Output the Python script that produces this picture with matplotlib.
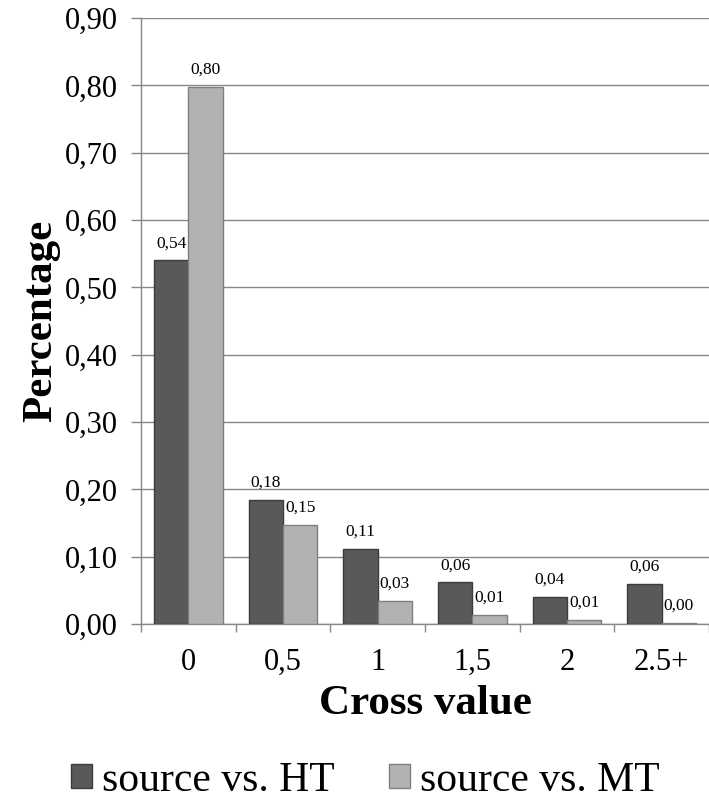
import numpy as np
import matplotlib
matplotlib.use("Agg")
import matplotlib.pyplot as plt
from matplotlib.ticker import FuncFormatter, FixedLocator

plt.rcParams["font.family"] = ["Liberation Serif", "DejaVu Serif"]

categories = ["0", "0,5", "1", "1,5", "2", "2.5+"]
source_vs_ht = [0.54, 0.184, 0.112, 0.062, 0.040, 0.060]
source_vs_mt = [0.798, 0.147, 0.034, 0.014, 0.006, 0.002]
series_names = ["source vs. HT", "source vs. MT"]

DARK = "#595959"
LIGHT = "#b2b2b2"
GRID = "#878787"


def comma(v, _=None):
    return f"{v:.2f}".replace(".", ",")


fig = plt.figure(figsize=(7.09, 8.0), dpi=100)
ax = fig.add_axes([0.199, 0.22, 0.801, 0.7575])

x = np.arange(len(categories))
w = 0.363
b1 = ax.bar(x - w / 2, source_vs_ht, w, color=DARK, edgecolor="#3c3c3c",
            linewidth=1, label=series_names[0], zorder=3)
b2 = ax.bar(x + w / 2, source_vs_mt, w, color=LIGHT, edgecolor="#7f7f7f",
            linewidth=1, label=series_names[1], zorder=3)

for bars, vals in ((b1, source_vs_ht), (b2, source_vs_mt)):
    for r, v in zip(bars, vals):
        ax.annotate(comma(v), (r.get_x() + r.get_width() / 2, v),
                    xytext=(0, 6.5), textcoords="offset points",
                    ha="center", va="bottom", fontsize=12.5)

ax.set_xlim(-0.5, len(categories) - 0.5)
ax.set_ylim(0, 0.9)
ax.set_yticks(np.arange(0, 0.91, 0.1))
ax.yaxis.set_major_formatter(FuncFormatter(comma))
ax.set_xticks(x)
ax.set_xticklabels(categories)
ax.xaxis.set_minor_locator(FixedLocator(np.arange(-0.5, len(categories), 1)))

ax.tick_params(axis="y", labelsize=22, length=7, width=1, color=GRID, pad=10)
ax.tick_params(axis="x", which="major", labelsize=22, length=0, pad=17)
ax.tick_params(axis="x", which="minor", length=6, width=1, color=GRID)

ax.grid(axis="y", color=GRID, linewidth=1, zorder=0)
ax.set_axisbelow(True)
for s in ("top", "right"):
    ax.spines[s].set_visible(False)
for s in ("left", "bottom"):
    ax.spines[s].set_color(GRID)
    ax.spines[s].set_linewidth(1)

ax.set_ylabel("Percentage", fontsize=31, fontweight="bold", labelpad=3)
ax.set_xlabel("Cross value", fontsize=31, fontweight="bold", labelpad=6)

fig.legend(handles=[b1, b2], loc="center", bbox_to_anchor=(0.515, 0.024),
           ncol=2, frameon=False, fontsize=30, handlelength=0.5,
           handleheight=0.5, handletextpad=0.25, columnspacing=1.3)

fig.savefig("out.png", dpi=100)
